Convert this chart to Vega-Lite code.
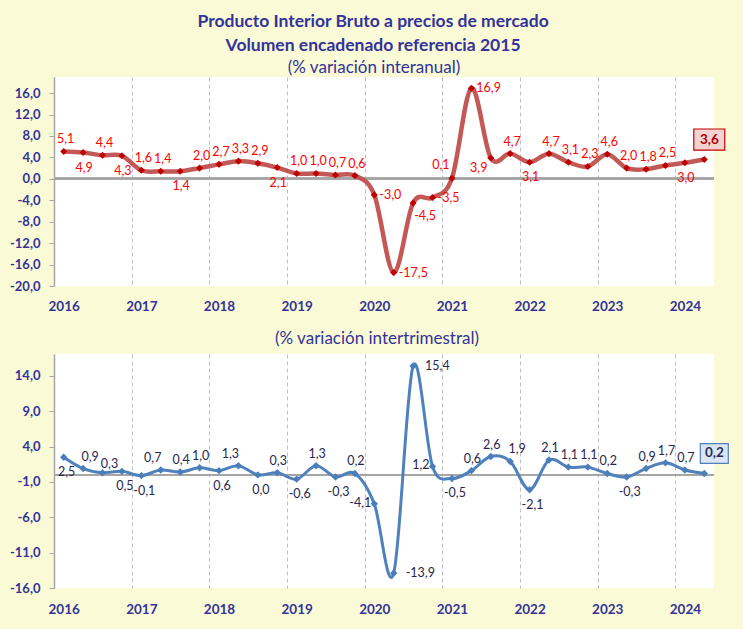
{
  "$schema": "https://vega.github.io/schema/vega-lite/v6.json",
  "background": "#FAFAD7",
  "padding": {"left": 9, "top": 12, "right": 24, "bottom": 14},
  "datasets": {
    "pib": [
      {"t": 0, "trimestre": "2016T1", "interanual": 5.1, "intertrimestral": 2.5},
      {"t": 1, "trimestre": "2016T2", "interanual": 4.9, "intertrimestral": 0.9},
      {"t": 2, "trimestre": "2016T3", "interanual": 4.4, "intertrimestral": 0.3},
      {"t": 3, "trimestre": "2016T4", "interanual": 4.3, "intertrimestral": 0.5},
      {"t": 4, "trimestre": "2017T1", "interanual": 1.6, "intertrimestral": -0.1},
      {"t": 5, "trimestre": "2017T2", "interanual": 1.4, "intertrimestral": 0.7},
      {"t": 6, "trimestre": "2017T3", "interanual": 1.4, "intertrimestral": 0.4},
      {"t": 7, "trimestre": "2017T4", "interanual": 2.0, "intertrimestral": 1.0},
      {"t": 8, "trimestre": "2018T1", "interanual": 2.7, "intertrimestral": 0.6},
      {"t": 9, "trimestre": "2018T2", "interanual": 3.3, "intertrimestral": 1.3},
      {"t": 10, "trimestre": "2018T3", "interanual": 2.9, "intertrimestral": 0.0},
      {"t": 11, "trimestre": "2018T4", "interanual": 2.1, "intertrimestral": 0.3},
      {"t": 12, "trimestre": "2019T1", "interanual": 1.0, "intertrimestral": -0.6},
      {"t": 13, "trimestre": "2019T2", "interanual": 1.0, "intertrimestral": 1.3},
      {"t": 14, "trimestre": "2019T3", "interanual": 0.7, "intertrimestral": -0.3},
      {"t": 15, "trimestre": "2019T4", "interanual": 0.6, "intertrimestral": 0.2},
      {"t": 16, "trimestre": "2020T1", "interanual": -3.0, "intertrimestral": -4.1},
      {"t": 17, "trimestre": "2020T2", "interanual": -17.5, "intertrimestral": -13.9},
      {"t": 18, "trimestre": "2020T3", "interanual": -4.5, "intertrimestral": 15.4},
      {"t": 19, "trimestre": "2020T4", "interanual": -3.5, "intertrimestral": 1.2},
      {"t": 20, "trimestre": "2021T1", "interanual": 0.1, "intertrimestral": -0.5},
      {"t": 21, "trimestre": "2021T2", "interanual": 16.9, "intertrimestral": 0.6},
      {"t": 22, "trimestre": "2021T3", "interanual": 3.9, "intertrimestral": 2.6},
      {"t": 23, "trimestre": "2021T4", "interanual": 4.7, "intertrimestral": 1.9},
      {"t": 24, "trimestre": "2022T1", "interanual": 3.1, "intertrimestral": -2.1},
      {"t": 25, "trimestre": "2022T2", "interanual": 4.7, "intertrimestral": 2.1},
      {"t": 26, "trimestre": "2022T3", "interanual": 3.1, "intertrimestral": 1.1},
      {"t": 27, "trimestre": "2022T4", "interanual": 2.3, "intertrimestral": 1.1},
      {"t": 28, "trimestre": "2023T1", "interanual": 4.6, "intertrimestral": 0.2},
      {"t": 29, "trimestre": "2023T2", "interanual": 2.0, "intertrimestral": -0.3},
      {"t": 30, "trimestre": "2023T3", "interanual": 1.8, "intertrimestral": 0.9},
      {"t": 31, "trimestre": "2023T4", "interanual": 2.5, "intertrimestral": 1.7},
      {"t": 32, "trimestre": "2024T1", "interanual": 3.0, "intertrimestral": 0.7},
      {"t": 33, "trimestre": "2024T2", "interanual": 3.6, "intertrimestral": 0.2}
    ]
  },
  "title": {
    "text": ["Producto Interior Bruto a precios de mercado", "Volumen encadenado referencia 2015"],
    "font": "Lato", "fontSize": 17.5, "fontWeight": "bold", "color": "#333399",
    "lineHeight": 24, "anchor": "middle", "offset": 5, "dx": 3
  },
  "spacing": 17,
  "vconcat": [
    {
      "width": 660,
      "height": 209,
      "title": {"text": "(% variación interanual)", "font": "Lato", "fontSize": 17, "fontWeight": "normal", "color": "#333399", "offset": 0, "dx": -10},
      "data": {"name": "pib"},
      "layer": [
        {
          "mark": {"type": "rule", "color": "#A6A6A6", "strokeWidth": 2},
          "encoding": {
            "y": {"datum": 0, "type": "quantitative", "scale": {"domain": [-20, 19], "nice": false, "zero": false}}
          }
        },
        {
          "mark": {"type": "line", "interpolate": "cardinal", "color": "#C0504D", "strokeWidth": 4.5, "opacity": 0.95},
          "encoding": {
            "x": {"field": "t", "type": "quantitative", "scale": {"domain": [-0.5, 33.5], "nice": false, "zero": false},
              "axis": {"values": [-0.5, 3.5, 7.5, 11.5, 15.5, 19.5, 23.5, 27.5, 31.5], "tickCount": 40, "labelExpr": "toString(2016 + (datum.value + 0.5) / 4)", "labelOffset": 9.7, "title": null, "domain": false, "ticks": false, "grid": true, "gridColor": "#BFBFBF", "gridDash": [4, 3], "gridWidth": 1, "labelFont": "Lato", "labelFontSize": 13.5, "labelFontWeight": "bold", "labelColor": "#333399", "labelPadding": 13, "labelFlush": false, "labelOverlap": false, "labelBound": false}},
            "y": {"field": "interanual", "type": "quantitative", "scale": {"domain": [-20, 19], "nice": false, "zero": false},
              "axis": {"values": [-20, -16, -12, -8, -4, 0, 4, 8, 12, 16], "tickCount": 40, "format": ".1f", "title": null, "grid": false, "domainColor": "#A6A6A6", "domainWidth": 1.5, "tickColor": "#A6A6A6", "tickSize": 5, "labelFont": "Lato", "labelFontSize": 13, "labelFontWeight": "bold", "labelColor": "#333399", "labelPadding": 9, "labelOverlap": false, "labelBound": false, "labelFlush": false}}
          }
        },
        {
          "mark": {"type": "point", "shape": "diamond", "filled": true, "size": 50, "color": "#C00000", "opacity": 1},
          "encoding": {
            "x": {"field": "t", "type": "quantitative", "scale": {"domain": [-0.5, 33.5], "nice": false, "zero": false}},
            "y": {"field": "interanual", "type": "quantitative", "scale": {"domain": [-20, 19], "nice": false, "zero": false}}
          }
        },
        {
          "transform": [{"filter": "indexof([0,2,4,5,7,8,9,10,12,13,14,15,23,25,26,27,28,29,30,31], datum.t) >= 0"}],
          "mark": {"type": "text", "font": "Lato", "fontSize": 12.5, "color": "#FF0000", "dy": -12, "dx": 2},
          "encoding": {
            "x": {"field": "t", "type": "quantitative"},
            "y": {"field": "interanual", "type": "quantitative"},
            "text": {"field": "interanual", "type": "quantitative", "format": ".1f"}
          }
        },
        {
          "transform": [{"filter": "indexof([1,3,6,11,24,32], datum.t) >= 0"}],
          "mark": {"type": "text", "font": "Lato", "fontSize": 12.5, "color": "#FF0000", "dy": 15, "dx": 1},
          "encoding": {
            "x": {"field": "t", "type": "quantitative"},
            "y": {"field": "interanual", "type": "quantitative"},
            "text": {"field": "interanual", "type": "quantitative", "format": ".1f"}
          }
        },
        {
          "transform": [{"filter": "indexof([16,17,19,21], datum.t) >= 0"}],
          "mark": {"type": "text", "font": "Lato", "fontSize": 12.5, "color": "#FF0000", "align": "left", "dx": 5, "dy": 0},
          "encoding": {
            "x": {"field": "t", "type": "quantitative"},
            "y": {"field": "interanual", "type": "quantitative"},
            "text": {"field": "interanual", "type": "quantitative", "format": ".1f"}
          }
        },
        {
          "transform": [{"filter": "datum.t == 18"}],
          "mark": {"type": "text", "font": "Lato", "fontSize": 12.5, "color": "#FF0000", "dx": 12, "dy": 13},
          "encoding": {
            "x": {"field": "t", "type": "quantitative"},
            "y": {"field": "interanual", "type": "quantitative"},
            "text": {"field": "interanual", "type": "quantitative", "format": ".1f"}
          }
        },
        {
          "transform": [{"filter": "datum.t == 20"}],
          "mark": {"type": "text", "font": "Lato", "fontSize": 12.5, "color": "#FF0000", "dx": -11, "dy": -13},
          "encoding": {
            "x": {"field": "t", "type": "quantitative"},
            "y": {"field": "interanual", "type": "quantitative"},
            "text": {"field": "interanual", "type": "quantitative", "format": ".1f"}
          }
        },
        {
          "transform": [{"filter": "datum.t == 22"}],
          "mark": {"type": "text", "font": "Lato", "fontSize": 12.5, "color": "#FF0000", "dx": -12, "dy": 10},
          "encoding": {
            "x": {"field": "t", "type": "quantitative"},
            "y": {"field": "interanual", "type": "quantitative"},
            "text": {"field": "interanual", "type": "quantitative", "format": ".1f"}
          }
        },
        {
          "transform": [{"filter": "datum.t == 33"}],
          "mark": {"type": "point", "shape": "M-1,-0.68H1V0.68H-1Z", "size": 961, "filled": true, "fill": "#F2D3D2", "stroke": "#C00000", "strokeWidth": 1.2, "opacity": 1, "xOffset": 5, "yOffset": -20},
          "encoding": {
            "x": {"field": "t", "type": "quantitative"},
            "y": {"field": "interanual", "type": "quantitative"}
          }
        },
        {
          "transform": [{"filter": "datum.t == 33"}],
          "mark": {"type": "text", "font": "Lato", "fontSize": 13.5, "fontWeight": "bold", "color": "#B00000", "dx": 5, "dy": -20},
          "encoding": {
            "x": {"field": "t", "type": "quantitative"},
            "y": {"field": "interanual", "type": "quantitative"},
            "text": {"field": "interanual", "type": "quantitative", "format": ".1f"}
          }
        }
      ]
    },
    {
      "width": 660,
      "height": 234,
      "title": {"text": "(% variación intertrimestral)", "font": "Lato", "fontSize": 17, "fontWeight": "normal", "color": "#333399", "offset": 6, "dx": -7},
      "data": {"name": "pib"},
      "layer": [
        {
          "mark": {"type": "rule", "color": "#A6A6A6", "strokeWidth": 2},
          "encoding": {
            "y": {"datum": 0, "type": "quantitative", "scale": {"domain": [-16, 17.1], "nice": false, "zero": false}}
          }
        },
        {
          "mark": {"type": "line", "interpolate": "cardinal", "color": "#4F81BD", "strokeWidth": 3},
          "encoding": {
            "x": {"field": "t", "type": "quantitative", "scale": {"domain": [-0.5, 33.5], "nice": false, "zero": false},
              "axis": {"values": [-0.5, 3.5, 7.5, 11.5, 15.5, 19.5, 23.5, 27.5, 31.5], "tickCount": 40, "labelExpr": "toString(2016 + (datum.value + 0.5) / 4)", "labelOffset": 9.7, "title": null, "domain": false, "ticks": false, "grid": true, "gridColor": "#BFBFBF", "gridDash": [4, 3], "gridWidth": 1, "labelFont": "Lato", "labelFontSize": 13.5, "labelFontWeight": "bold", "labelColor": "#333399", "labelPadding": 14, "labelFlush": false, "labelOverlap": false, "labelBound": false}},
            "y": {"field": "intertrimestral", "type": "quantitative", "scale": {"domain": [-16, 17.1], "nice": false, "zero": false},
              "axis": {"values": [-16, -11, -6, -1, 4, 9, 14], "tickCount": 40, "format": ".1f", "title": null, "grid": false, "domainColor": "#A6A6A6", "domainWidth": 1.5, "tickColor": "#A6A6A6", "tickSize": 5, "labelFont": "Lato", "labelFontSize": 13, "labelFontWeight": "bold", "labelColor": "#333399", "labelPadding": 9, "labelOverlap": false, "labelBound": false, "labelFlush": false}}
          }
        },
        {
          "mark": {"type": "point", "shape": "diamond", "filled": true, "size": 55, "color": "#4A7EBB", "opacity": 1},
          "encoding": {
            "x": {"field": "t", "type": "quantitative", "scale": {"domain": [-0.5, 33.5], "nice": false, "zero": false}},
            "y": {"field": "intertrimestral", "type": "quantitative", "scale": {"domain": [-16, 17.1], "nice": false, "zero": false}}
          }
        },
        {
          "transform": [{"filter": "indexof([6,7,11,13,15,21,22,25,26,27,28,30,31,32], datum.t) >= 0"}],
          "mark": {"type": "text", "font": "Lato", "fontSize": 12.5, "color": "#262650", "dy": -12, "dx": 1},
          "encoding": {
            "x": {"field": "t", "type": "quantitative"},
            "y": {"field": "intertrimestral", "type": "quantitative"},
            "text": {"field": "intertrimestral", "type": "quantitative", "format": ".1f"}
          }
        },
        {
          "transform": [{"filter": "indexof([1,23], datum.t) >= 0"}],
          "mark": {"type": "text", "font": "Lato", "fontSize": 12.5, "color": "#262650", "dy": -12, "dx": 7},
          "encoding": {
            "x": {"field": "t", "type": "quantitative"},
            "y": {"field": "intertrimestral", "type": "quantitative"},
            "text": {"field": "intertrimestral", "type": "quantitative", "format": ".1f"}
          }
        },
        {
          "transform": [{"filter": "datum.t == 2"}],
          "mark": {"type": "text", "font": "Lato", "fontSize": 12.5, "color": "#262650", "dy": -9, "dx": 7},
          "encoding": {
            "x": {"field": "t", "type": "quantitative"},
            "y": {"field": "intertrimestral", "type": "quantitative"},
            "text": {"field": "intertrimestral", "type": "quantitative", "format": ".1f"}
          }
        },
        {
          "transform": [{"filter": "indexof([5,9], datum.t) >= 0"}],
          "mark": {"type": "text", "font": "Lato", "fontSize": 12.5, "color": "#262650", "dy": -12, "dx": -8},
          "encoding": {
            "x": {"field": "t", "type": "quantitative"},
            "y": {"field": "intertrimestral", "type": "quantitative"},
            "text": {"field": "intertrimestral", "type": "quantitative", "format": ".1f"}
          }
        },
        {
          "transform": [{"filter": "indexof([0,3,4,8,10,12,14,20,24,29], datum.t) >= 0"}],
          "mark": {"type": "text", "font": "Lato", "fontSize": 12.5, "color": "#262650", "dy": 15, "dx": 3},
          "encoding": {
            "x": {"field": "t", "type": "quantitative"},
            "y": {"field": "intertrimestral", "type": "quantitative"},
            "text": {"field": "intertrimestral", "type": "quantitative", "format": ".1f"}
          }
        },
        {
          "transform": [{"filter": "indexof([16,19], datum.t) >= 0"}],
          "mark": {"type": "text", "font": "Lato", "fontSize": 12.5, "color": "#262650", "align": "right", "dx": -3, "dy": -1},
          "encoding": {
            "x": {"field": "t", "type": "quantitative"},
            "y": {"field": "intertrimestral", "type": "quantitative"},
            "text": {"field": "intertrimestral", "type": "quantitative", "format": ".1f"}
          }
        },
        {
          "transform": [{"filter": "indexof([17,18], datum.t) >= 0"}],
          "mark": {"type": "text", "font": "Lato", "fontSize": 12.5, "color": "#262650", "align": "left", "dx": 12, "dy": 0},
          "encoding": {
            "x": {"field": "t", "type": "quantitative"},
            "y": {"field": "intertrimestral", "type": "quantitative"},
            "text": {"field": "intertrimestral", "type": "quantitative", "format": ".1f"}
          }
        },
        {
          "transform": [{"filter": "datum.t == 33"}],
          "mark": {"type": "point", "shape": "M-1,-0.71H1V0.71H-1Z", "size": 784, "filled": true, "fill": "#DBE5F1", "stroke": "#4F81BD", "strokeWidth": 1.2, "opacity": 1, "xOffset": 10, "yOffset": -20},
          "encoding": {
            "x": {"field": "t", "type": "quantitative"},
            "y": {"field": "intertrimestral", "type": "quantitative"}
          }
        },
        {
          "transform": [{"filter": "datum.t == 33"}],
          "mark": {"type": "text", "font": "Lato", "fontSize": 13.5, "fontWeight": "bold", "color": "#1F2F5F", "dx": 10, "dy": -20},
          "encoding": {
            "x": {"field": "t", "type": "quantitative"},
            "y": {"field": "intertrimestral", "type": "quantitative"},
            "text": {"field": "intertrimestral", "type": "quantitative", "format": ".1f"}
          }
        }
      ]
    }
  ],
  "config": {
    "view": {"fill": "white", "stroke": null},
    "axis": {"labelOverlap": false},
    "axisY": {"labelOverlap": false, "tickCount": 40},
    "locale": {"number": {"decimal": ",", "thousands": ".", "grouping": [3], "currency": ["", " €"], "minus": "-"}},
    "text": {"baseline": "middle"}
  }
}
